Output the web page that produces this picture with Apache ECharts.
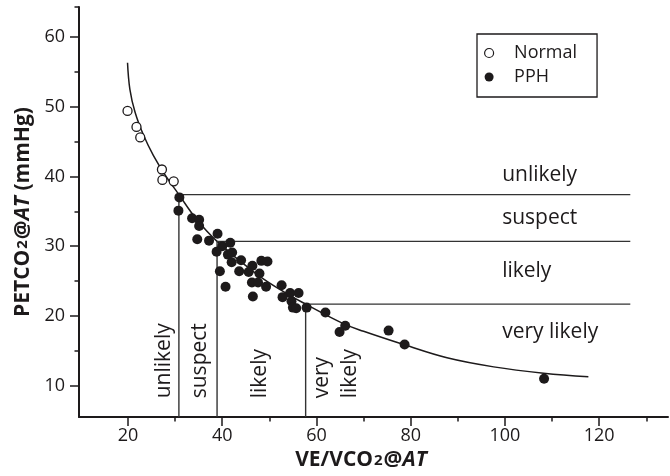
<!DOCTYPE html>
<html>
<head>
<meta charset="utf-8">
<script src="https://cdn.jsdelivr.net/npm/echarts@6/dist/echarts.min.js"></script>
<style>
  html, body { margin: 0; padding: 0; background: #fff; }
  #main { width: 670px; height: 476px; }
</style>
</head>
<body>
<div id="main"></div>
<script>
// values
var normalPts = [[19.9, 49.4], [21.8, 47.1], [22.6, 45.6], [27.2, 41.0], [27.3, 39.5], [29.7, 39.3]];
var pphPts = [
  [30.9, 37.0], [30.7, 35.1], [33.6, 34.0], [35.1, 33.8], [35.1, 32.9], [34.7, 31.0],
  [37.2, 30.8], [39.0, 31.8], [40.0, 30.0], [41.7, 30.5], [38.8, 29.2], [41.2, 28.8],
  [42.1, 29.1], [42.0, 27.7], [44.0, 28.0], [39.5, 26.4], [40.7, 24.2], [43.6, 26.4],
  [45.6, 26.3], [46.4, 27.2], [47.9, 26.1], [48.3, 27.9], [49.6, 27.8], [46.3, 24.8],
  [47.6, 24.8], [49.3, 24.2], [46.5, 22.8], [52.6, 24.4], [54.4, 23.3], [56.2, 23.3],
  [52.8, 22.7], [54.7, 22.1], [55.0, 21.2], [55.7, 21.1], [57.9, 21.2], [61.9, 20.5],
  [66.1, 18.6], [64.9, 17.7], [75.3, 17.9], [78.7, 15.9], [108.3, 11.0]
];
var fitCurve = [
  [19.9, 56.3], [20.4, 52.5], [21.5, 49.2], [23.3, 45.9], [25.4, 43.0], [27.9, 40.2],
  [30.8, 37.4], [34.5, 33.9], [38.9, 30.7], [47.3, 26.0], [53.7, 23.2], [57.7, 21.7],
  [65.7, 18.9], [70.0, 17.8], [78.5, 15.9], [87.7, 14.0], [97.6, 12.7], [108.2, 11.8],
  [117.7, 11.3]
];
var cutX = [30.8, 38.9, 57.7];
var cutY = [37.4, 30.7, 21.7];
var cutEndX = 126.6;
var zoneNames = ['unlikely', 'suspect', 'likely', 'very likely'];
var zoneLabelY = [40.2, 34.1, 26.4, 17.7];
var zoneLabelX = 99.4;
var colNames = ['unlikely', 'suspect', 'likely', 'very', 'likely'];
var colLabelX = [27.6, 35.3, 48.0, 61.2, 67.1];
var colLabelY = 8.2;
var xMajor = [20, 40, 60, 80, 100, 120];
var xMinor = [30, 50, 70, 90, 110, 130];
var yMajor = [10, 20, 30, 40, 50, 60];
var yMinor = [15, 25, 35, 45, 55, 64.3];
var xRange = [9.6, 134.6];
var yRange = [5.5, 64.3];

var ink = '#1d1a1b';
var font = 'Open Sans';

var chart = echarts.init(document.getElementById('main'));

var nameRich = {
  b: { fontFamily: font, fontWeight: 'bold', fontSize: 21, color: ink },
  s: { fontFamily: font, fontWeight: 'bold', fontSize: 15, color: ink, verticalAlign: 'bottom', padding: [0, 1, 3, 1] },
  i: { fontFamily: font, fontWeight: 'bold', fontStyle: 'italic', fontSize: 21, color: ink }
};

function majorAxis(range, ticks, extra) {
  return Object.assign({
    type: 'value',
    min: range[0],
    max: range[1],
    splitLine: { show: false },
    axisLine: { lineStyle: { color: ink, width: 2 } },
    axisTick: { customValues: ticks, length: 9, lineStyle: { color: ink, width: 1.5 } },
    axisLabel: { customValues: ticks, fontFamily: font, fontSize: 18, color: ink }
  }, extra);
}
function minorAxis(range, ticks, pos) {
  return {
    type: 'value',
    position: pos,
    min: range[0],
    max: range[1],
    splitLine: { show: false },
    axisLine: { show: false },
    axisLabel: { show: false },
    axisTick: { customValues: ticks, length: 4.5, lineStyle: { color: ink, width: 1.5 } }
  };
}

var series = [];
series.push({
  type: 'line',
  data: fitCurve,
  smooth: 0.4,
  showSymbol: false,
  silent: true,
  lineStyle: { color: ink, width: 1.5 }
});
cutX.forEach(function (cx, i) {
  series.push({
    type: 'line',
    data: [[cx, yRange[0]], [cx, cutY[i]], [cutEndX, cutY[i]]],
    showSymbol: false,
    silent: true,
    lineStyle: { color: '#333', width: 1.4 }
  });
});
series.push({
  name: 'Normal',
  type: 'scatter',
  data: normalPts,
  symbol: 'circle',
  symbolSize: 9,
  itemStyle: { color: '#fff', borderColor: ink, borderWidth: 1.3, opacity: 1 },
  z: 5
});
series.push({
  name: 'PPH',
  type: 'scatter',
  data: pphPts,
  symbol: 'circle',
  symbolSize: 10,
  itemStyle: { color: ink, opacity: 1 },
  z: 6
});
series.push({
  type: 'scatter',
  symbolSize: 0,
  silent: true,
  itemStyle: { opacity: 1 },
  data: zoneNames.map(function (n, i) { return { name: n, value: [zoneLabelX, zoneLabelY[i]] }; }),
  label: {
    show: true, formatter: '{b}', position: 'right', distance: 0,
    fontFamily: font, fontSize: 21, color: ink, opacity: 1
  }
});
series.push({
  type: 'scatter',
  symbolSize: 0,
  silent: true,
  itemStyle: { opacity: 1 },
  data: colNames.map(function (n, i) { return { name: n, value: [colLabelX[i], colLabelY] }; }),
  label: {
    show: true, formatter: '{b}', position: [0, 0], rotate: 90,
    align: 'left', verticalAlign: 'middle',
    fontFamily: font, fontSize: 21, color: ink, opacity: 1
  }
});

chart.setOption({
  animation: false,
  grid: { left: 79, right: 2, top: 7, bottom: 55 },
  legend: {
    data: [{ name: 'Normal', itemStyle: { borderWidth: 1.2 } }, { name: 'PPH' }],
    orient: 'vertical',
    left: 477,
    top: 34,
    padding: [10, 20, 11, 7],
    itemWidth: 40,
    itemHeight: 9,
    itemGap: 6,
    borderColor: ink,
    borderWidth: 1.3,
    textStyle: { fontFamily: font, fontSize: 18, color: ink }
  },
  xAxis: [
    majorAxis(xRange, xMajor, {
      position: 'bottom',
      axisLabel: { customValues: xMajor, fontFamily: font, fontSize: 18, color: ink, margin: 10 },
      name: '{b|VE/VCO}{s|2}{b|@}{i|AT}',
      nameLocation: 'middle',
      nameGap: 32,
      nameTextStyle: { rich: nameRich, padding: [0, 25, 0, 0] }
    }),
    minorAxis(xRange, xMinor, 'bottom')
  ],
  yAxis: [
    majorAxis(yRange, yMajor, {
      position: 'left',
      axisLabel: { customValues: yMajor, fontFamily: font, fontSize: 18, color: ink, margin: 14 },
      name: '{b|PETCO}{s|2}{b|@}{i|AT}{b| (mmHg)}',
      nameLocation: 'middle',
      nameRotate: 90,
      nameGap: 43,
      nameTextStyle: { rich: nameRich }
    }),
    minorAxis(yRange, yMinor, 'left')
  ],
  series: series
});
</script>
</body>
</html>
